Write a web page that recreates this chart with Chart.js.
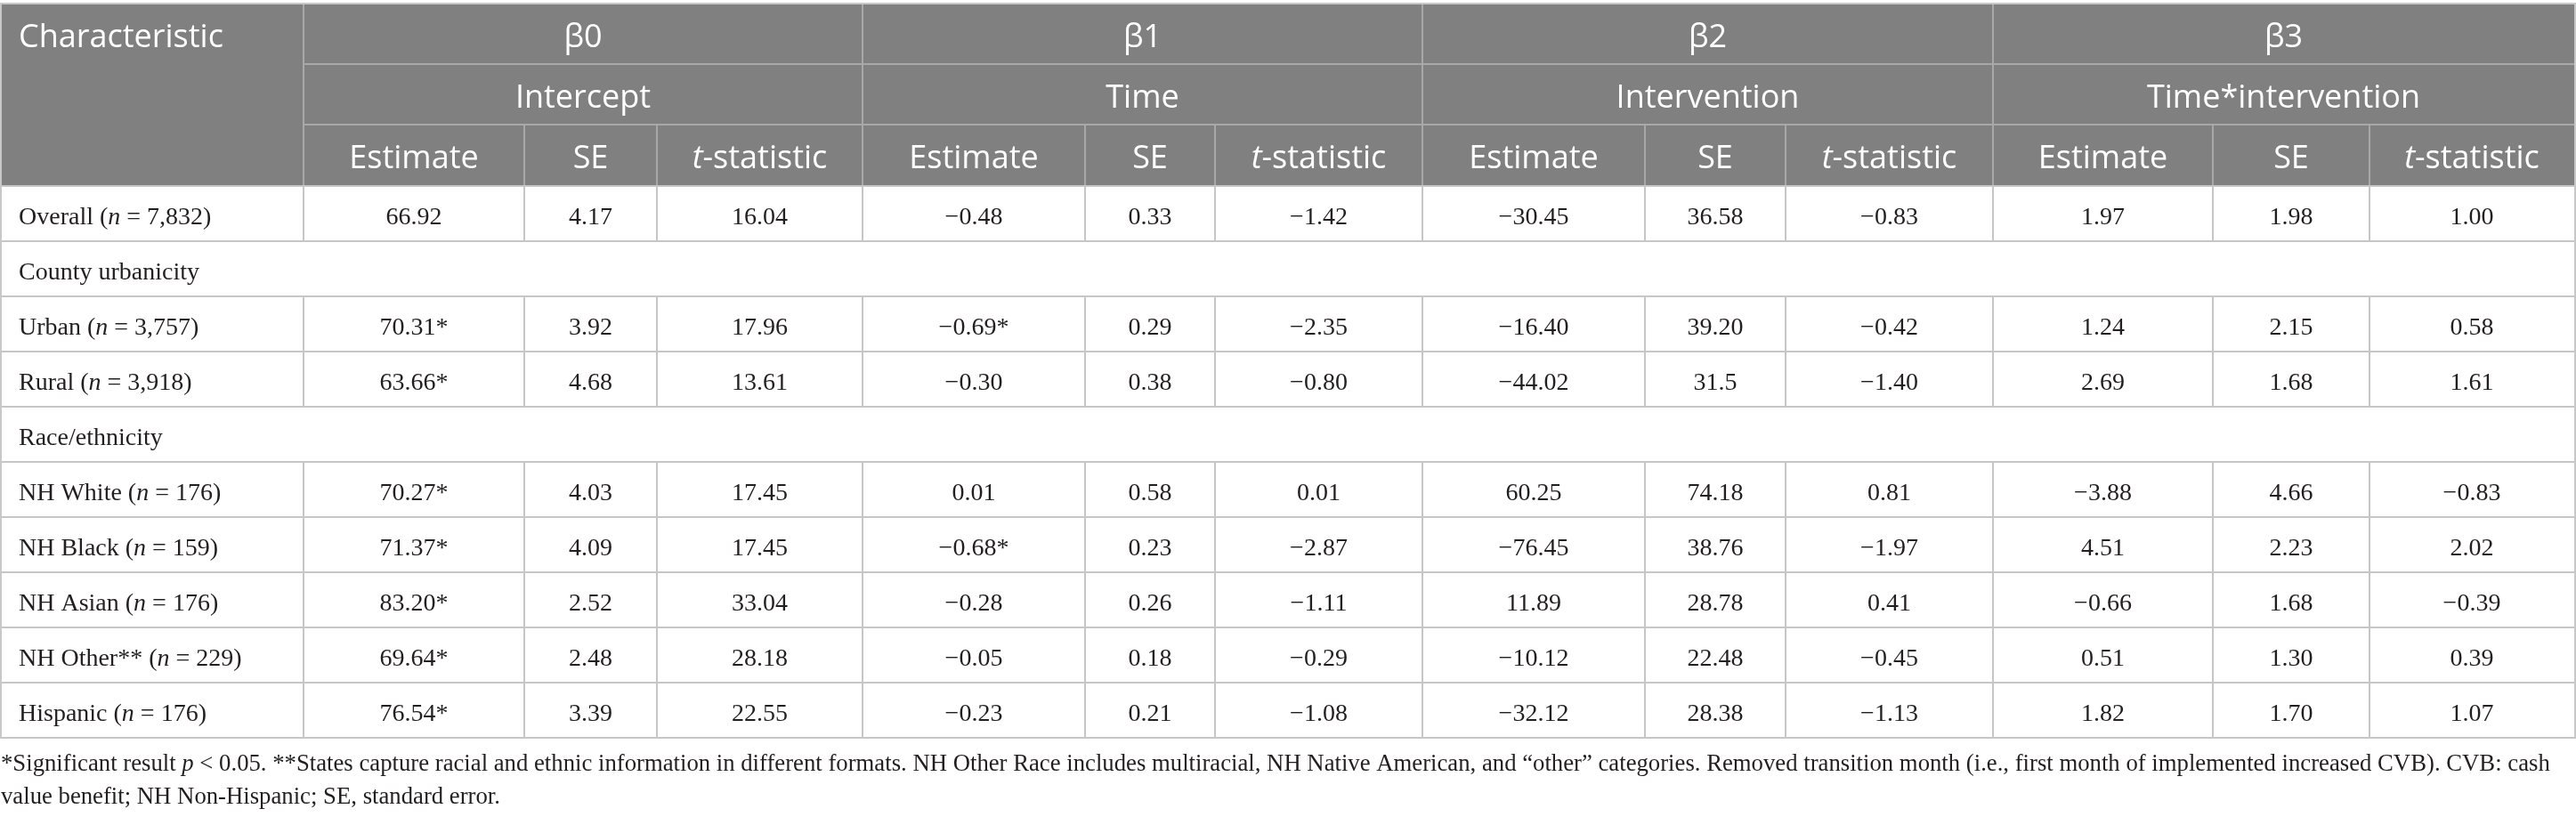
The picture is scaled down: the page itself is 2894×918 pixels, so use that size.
<!DOCTYPE html>
<html>
<head>
<meta charset="utf-8">
<script src="https://cdn.jsdelivr.net/npm/chart.js@4.4.0/dist/chart.umd.min.js"></script>
<style>
html,body{margin:0;padding:0;background:#ffffff;overflow:hidden}
canvas{display:block}
</style>
</head>
<body>
<canvas id="c" width="2894" height="918" style="width:2894px;height:918px"></canvas>
<script>
// ---------------- DATA ----------------
const rowLabels = ['Overall', 'Urban', 'Rural', 'NH White', 'NH Black', 'NH Asian', 'NH Other**', 'Hispanic'];
const rowN = ['7,832', '3,757', '3,918', '176', '159', '176', '229', '176'];
const sectionTitles = ['County urbanicity', 'Race/ethnicity'];
const sectionBefore = [1, 3];   // section header appears before this data row

const coefficients = ['β0', 'β1', 'β2', 'β3'];
const coefficientTerms = ['Intercept', 'Time', 'Intervention', 'Time*intervention'];
const statLabels = ['Estimate', 'SE', 't-statistic'];
const firstHeader = 'Characteristic';

const b0Estimate = ['66.92', '70.31*', '63.66*', '70.27*', '71.37*', '83.20*', '69.64*', '76.54*'];
const b0SE       = ['4.17', '3.92', '4.68', '4.03', '4.09', '2.52', '2.48', '3.39'];
const b0T        = ['16.04', '17.96', '13.61', '17.45', '17.45', '33.04', '28.18', '22.55'];

const b1Estimate = ['−0.48', '−0.69*', '−0.30', '0.01', '−0.68*', '−0.28', '−0.05', '−0.23'];
const b1SE       = ['0.33', '0.29', '0.38', '0.58', '0.23', '0.26', '0.18', '0.21'];
const b1T        = ['−1.42', '−2.35', '−0.80', '0.01', '−2.87', '−1.11', '−0.29', '−1.08'];

const b2Estimate = ['−30.45', '−16.40', '−44.02', '60.25', '−76.45', '11.89', '−10.12', '−32.12'];
const b2SE       = ['36.58', '39.20', '31.5', '74.18', '38.76', '28.78', '22.48', '28.38'];
const b2T        = ['−0.83', '−0.42', '−1.40', '0.81', '−1.97', '0.41', '−0.45', '−1.13'];

const b3Estimate = ['1.97', '1.24', '2.69', '−3.88', '4.51', '−0.66', '0.51', '1.82'];
const b3SE       = ['1.98', '2.15', '1.68', '4.66', '2.23', '1.68', '1.30', '1.70'];
const b3T        = ['1.00', '0.58', '1.61', '−0.83', '2.02', '−0.39', '0.39', '1.07'];

const footnoteLine1 = [
  ['*Significant result ', false], ['p', true],
  [' < 0.05. **States capture racial and ethnic information in different formats. NH Other Race includes multiracial, NH Native American, and \u201Cother\u201D categories. Removed transition month (i.e., first month of implemented increased CVB). CVB: cash', false]
];
const footnoteLine2 = [['value benefit; NH Non-Hispanic; SE, standard error.', false]];

// ---------------- LAYOUT / STYLE ----------------
const W = 2894, H = 918;
const colEdges = [0, 341, 589, 738, 969, 1219, 1365, 1598, 1848, 2006, 2239, 2486, 2662, 2892];
const headerEdges = [5, 72, 140, 209];
const bodyTop = 209, bodyRowH = 62;
const labelX = 21;
const headerFill = '#7f807f';
const headerLine = '#a7a8a7';
const bodyLine = '#c6c6c6';
const outerLine = '#c8c8c8';
const textColor = '#231f20';
const serif = '"Liberation Serif", "Times New Roman", serif';
const sans = '"Open Sans", "Noto Sans", sans-serif';
const bodySize = 28, headerSize = 36;

const valueColumns = [b0Estimate, b0SE, b0T, b1Estimate, b1SE, b1T, b2Estimate, b2SE, b2T, b3Estimate, b3SE, b3T];

// body rows in display order
const bodyRows = [];
rowLabels.forEach((lab, i) => {
  const s = sectionBefore.indexOf(i);
  if (s >= 0) bodyRows.push({ type: 'section', idx: s });
  bodyRows.push({ type: 'data', idx: i });
});
const rowCenter = r => bodyTop + bodyRowH * r + bodyRowH / 2;
const colCenter = c => (colEdges[c] + colEdges[c + 1]) / 2;

const datasets = [];
// label column
datasets.push({
  label: 'labels', kind: 'label', align: 'left',
  data: bodyRows.map((r, k) => ({ x: labelX, y: rowCenter(k) })),
  cells: bodyRows.map(r => r.type === 'section'
    ? [[sectionTitles[r.idx], false]]
    : [[rowLabels[r.idx] + ' (', false], ['n', true], [' = ' + rowN[r.idx] + ')', false]])
});
// value columns
valueColumns.forEach((col, c) => {
  const rows = [];
  bodyRows.forEach((r, k) => { if (r.type === 'data') rows.push({ k, v: col[r.idx] }); });
  datasets.push({
    label: 'col' + c, kind: 'value', align: 'center',
    data: rows.map(o => ({ x: colCenter(c + 1), y: rowCenter(o.k) })),
    cells: rows.map(o => [[o.v, false]])
  });
});
datasets.forEach(d => { d.pointRadius = 0; d.showLine = false; d.borderWidth = 0; });

function drawRich(ctx, segs, x, y, align, size, family, color) {
  let total = 0;
  const ws = segs.map(([t, it]) => {
    ctx.font = (it ? 'italic ' : '') + size + 'px ' + family;
    const w = ctx.measureText(t).width; total += w; return w;
  });
  let cx = align === 'center' ? x - total / 2 : x;
  ctx.fillStyle = color;
  ctx.textAlign = 'left';
  ctx.textBaseline = 'alphabetic';
  segs.forEach(([t, it], i) => {
    ctx.font = (it ? 'italic ' : '') + size + 'px ' + family;
    ctx.fillText(t, cx, y);
    cx += ws[i];
  });
  return total;
}

const tablePlugin = {
  id: 'tablePlugin',
  beforeDatasetsDraw(chart) {
    const { ctx } = chart;
    const xs = chart.scales.x, ys = chart.scales.y;
    const X = v => xs.getPixelForValue(v), Y = v => ys.getPixelForValue(v);
    const rect = (x0, y0, x1, y1, color) => {
      ctx.fillStyle = color;
      ctx.fillRect(Math.round(X(x0)), Math.round(Y(y0)), Math.round(X(x1) - X(x0)), Math.round(Y(y1) - Y(y0)));
    };
    const right = colEdges[colEdges.length - 1];
    ctx.save();
    // header background
    rect(0, headerEdges[0], right + 2, headerEdges[3], headerFill);
    // header horizontal lines (not across Characteristic cell)
    rect(colEdges[1], headerEdges[1] - 1, right, headerEdges[1] + 1, headerLine);
    rect(colEdges[1], headerEdges[2] - 1, right, headerEdges[2] + 1, headerLine);
    // header verticals: group edges rows 1-3, sub columns row 3
    [1, 4, 7, 10].forEach(c => rect(colEdges[c] - 1, headerEdges[0], colEdges[c] + 1, headerEdges[3], headerLine));
    [2, 3, 5, 6, 8, 9, 11, 12].forEach(c => rect(colEdges[c] - 1, headerEdges[2], colEdges[c] + 1, headerEdges[3], headerLine));
    // outer top
    rect(0, headerEdges[0] - 2, right + 2, headerEdges[0], outerLine);
    // body horizontal lines
    for (let k = 0; k <= bodyRows.length; k++) {
      const yy = bodyTop + bodyRowH * k;
      rect(0, yy - 1, right + 2, yy + 1, bodyLine);
    }
    // body verticals for data rows
    bodyRows.forEach((r, k) => {
      const y0 = bodyTop + bodyRowH * k, y1 = y0 + bodyRowH;
      if (r.type === 'data') {
        for (let c = 1; c < colEdges.length - 1; c++) rect(colEdges[c] - 1, y0, colEdges[c] + 1, y1, bodyLine);
      }
    });
    // left/right borders
    const bottom = bodyTop + bodyRowH * bodyRows.length;
    rect(0, headerEdges[0], 2, bottom + 1, outerLine);
    rect(right, headerEdges[0], right + 2, bottom + 1, outerLine);
    ctx.restore();
  },
  afterDatasetsDraw(chart) {
    const { ctx } = chart;
    const xs = chart.scales.x, ys = chart.scales.y;
    const X = v => xs.getPixelForValue(v), Y = v => ys.getPixelForValue(v);
    ctx.save();
    // header texts
    const hBase = r => Y((headerEdges[r] + headerEdges[r + 1]) / 2 + 14.5);
    drawRich(ctx, [[firstHeader, false]], X(labelX), hBase(0), 'left', headerSize, sans, '#ffffff');
    coefficients.forEach((b, g) => {
      const cx = X((colEdges[g * 3 + 1] + colEdges[g * 3 + 4]) / 2);
      drawRich(ctx, [[b, false]], cx, hBase(0), 'center', headerSize, sans, '#ffffff');
      drawRich(ctx, [[coefficientTerms[g], false]], cx, hBase(1), 'center', headerSize, sans, '#ffffff');
      statLabels.forEach((s, j) => {
        const c = g * 3 + 1 + j;
        const segs = s.startsWith('t-') ? [['t', true], [s.slice(1), false]] : [[s, false]];
        drawRich(ctx, segs, X(colCenter(c)), hBase(2), 'center', headerSize, sans, '#ffffff');
      });
    });
    // body cells from dataset elements
    chart.data.datasets.forEach((ds, di) => {
      const meta = chart.getDatasetMeta(di);
      meta.data.forEach((pt, i) => {
        const off = ys.getPixelForValue(12) - ys.getPixelForValue(0);
        drawRich(ctx, ds.cells[i], pt.x, pt.y + off, ds.align, bodySize, serif, textColor);
      });
    });
    // footnotes
    const target = 2866;
    let fs = 25;
    ctx.font = fs + 'px ' + serif;
    let w = 0;
    footnoteLine1.forEach(([t, it]) => { ctx.font = (it ? 'italic ' : '') + fs + 'px ' + serif; w += ctx.measureText(t).width; });
    fs = Math.max(22, Math.min(28, fs * target / w));
    drawRich(ctx, footnoteLine1, X(1), Y(866), 'left', fs, serif, textColor);
    drawRich(ctx, footnoteLine2, X(1), Y(903), 'left', fs, serif, textColor);
    ctx.restore();
  }
};

new Chart(document.getElementById('c'), {
  type: 'scatter',
  data: { datasets },
  options: {
    responsive: false,
    maintainAspectRatio: false,
    animation: false,
    events: [],
    devicePixelRatio: 1,
    layout: { padding: 0 },
    plugins: { legend: { display: false }, tooltip: { enabled: false } },
    scales: {
      x: { type: 'linear', min: 0, max: W, display: false },
      y: { type: 'linear', min: 0, max: H, reverse: true, display: false }
    }
  },
  plugins: [tablePlugin]
});
</script>
</body>
</html>
